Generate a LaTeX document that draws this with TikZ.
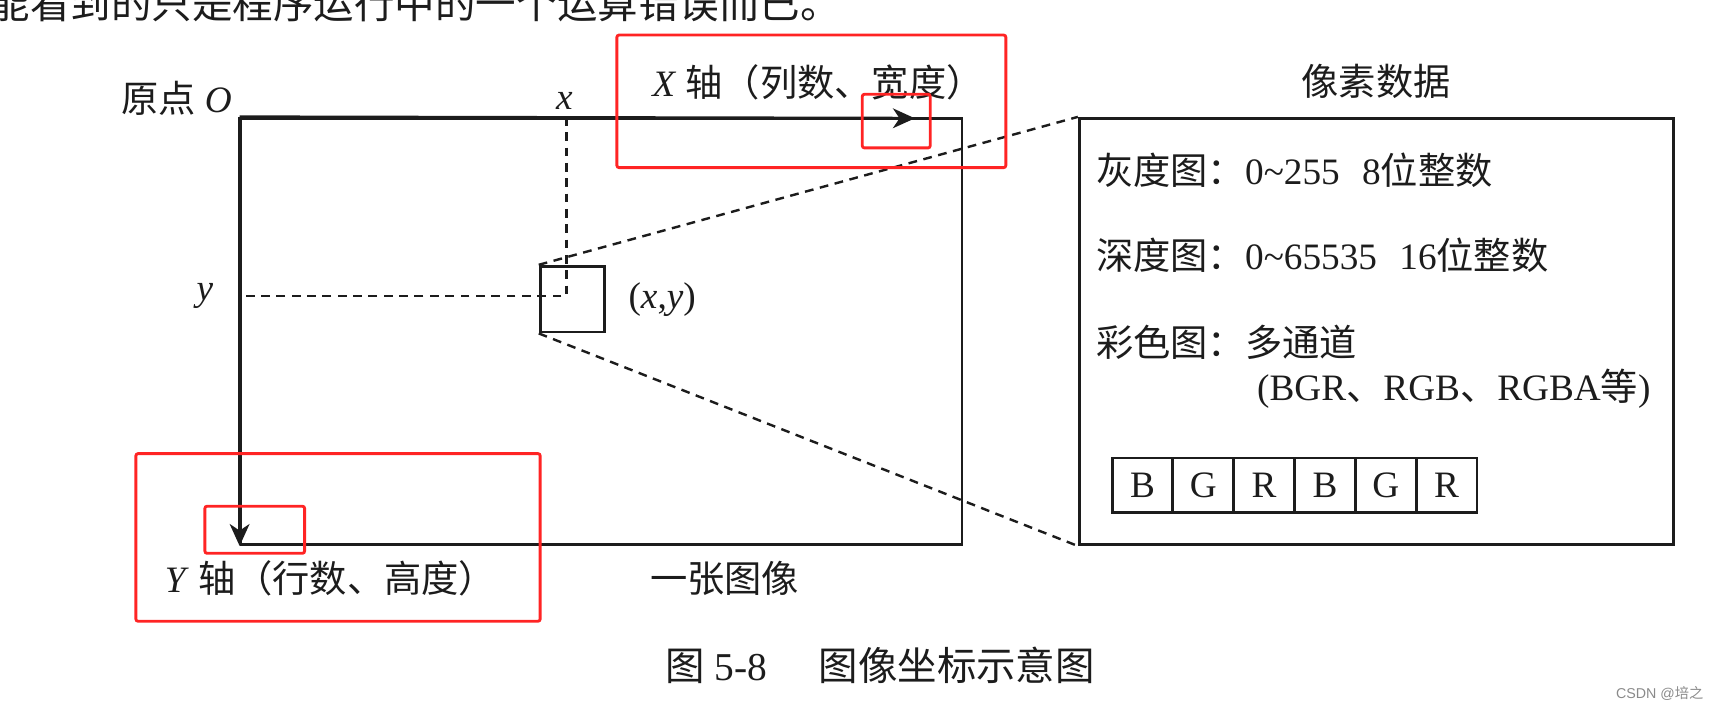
\documentclass[tikz,border=0pt]{standalone}
\usepackage{fontspec}
\setmainfont{Liberation Serif}
\newfontfamily\zh{Noto Sans CJK SC}
\newfontfamily\wmfont{Liberation Sans}
\usepackage{xcolor}
\usepackage{tikz}
\usetikzlibrary{arrows.meta, positioning}
\definecolor{colorMark}{HTML}{FF2424}
\definecolor{colorInk}{HTML}{1C1C1C}
\definecolor{colorWm}{HTML}{8A8A8A}

\tikzset{
  txt/.style={inner sep=0pt, text=colorInk, font=\fontsize{17}{20}\selectfont},
  frame/.style={draw=colorInk, line width=1.3pt, inner sep=0pt},
  guide/.style={draw=colorInk, line width=1.1pt, dash pattern=on 4pt off 3pt},
  axis/.style={draw=colorInk, line width=1.4pt, -{Stealth[length=10pt,width=9pt,inset=3pt]}},
  redbox/.style={draw=colorMark, line width=1.3pt, rounded corners=1pt},
  cell/.style={frame, minimum width=27.75pt, minimum height=25pt, text=colorInk, font=\fontsize{17}{20}\selectfont}
}

\begin{document}
\begin{tikzpicture}[x=0.5pt,y=-0.5pt]
        \useasboundingbox (0,0) rectangle (1568,647);

        \begin{scope}
            \clip (0,0) rectangle (1568,647);
            \node[txt, anchor=west, font=\fontsize{18.5}{20}\selectfont] (prev) at (-10,3) {\zh 能看到的只是程序运行中的一个运算错误而已。};
        \end{scope}

        \node[frame, minimum width=329pt, minimum height=194.5pt] (img) at (549,302.5) {};
        \node[frame, minimum width=29.5pt, minimum height=30pt] (px) at (522.5,273) {};
        \node[frame, minimum width=271pt, minimum height=194.5pt] (data) at (1256,302.5) {};

        \coordinate (xend) at (835,108);
        \coordinate (pt) at (517,270);
        \draw[axis] (img.north west) -- (xend);
        \draw[axis] (img.north west) -- (img.south west);
        \draw[guide] (pt |- img.north) -- (pt) -- (pt -| img.west);
        \draw[guide] (px.north west) -- (data.north west);
        \draw[guide] (px.south west) -- (data.south west);

        \node[txt, anchor=east] (origin) at (212,90) {{\zh 原点} \textit{O}};
        \node[txt] (xlbl) at (515,92) {\textit{x}};
        \node[txt] (ylbl) at (187,270) {\textit{y}};
        \node[txt, right=10pt of px] (xy) {(\textit{x},\textit{y})};
        \node[txt, anchor=west] (xaxis) at (595,75) {\textit{X} {\zh 轴（列数、宽度）}};
        \node[txt, anchor=west] (yaxis) at (150,528) {\textit{Y} {\zh 轴（行数、高度）}};
        \node[txt, anchor=west] (imgname) at (593,528) {\zh 一张图像};
        \node[txt, above=8pt of data] (dataname) {\zh 像素数据};

        \node[txt, anchor=west] (gray) at (1000,155) {{\zh 灰度图：}0\textasciitilde 255\hspace{0.6em}8{\zh 位整数}};
        \node[txt, anchor=west] (depth) at (1000,233) {{\zh 深度图：}0\textasciitilde 65535\hspace{0.6em}16{\zh 位整数}};
        \node[txt, anchor=west] (color) at (1000,312) {\zh 彩色图：多通道};
        \node[txt, anchor=west] (order) at (1147,355) {(BGR{\zh 、}RGB{\zh 、}RGBA{\zh 等})};

        \foreach \ch [count=\i] in {B,G,R,B,G,R}
            \node[cell] (c\i) at ({1042.75+55.5*(\i-1)},443) {\ch};

        \node[txt, anchor=west, font=\fontsize{18}{20}\selectfont] (caption) at (607,607) {{\zh 图} 5-8\hspace{1.3em}{\zh 图像坐标示意图}};

        \draw[redbox] (563,32) rectangle (918,153);
        \draw[redbox] (787,86) rectangle (849,135);
        \draw[redbox] (124,414) rectangle (493,567);
        \draw[redbox] (187,462) rectangle (278,505);

        \node[anchor=east, inner sep=0pt, text=colorWm, font=\fontsize{6.5}{8}\selectfont\wmfont] (wm) at (1555,633) {CSDN @{\zh 培之}};
    \end{tikzpicture}
\end{document}
